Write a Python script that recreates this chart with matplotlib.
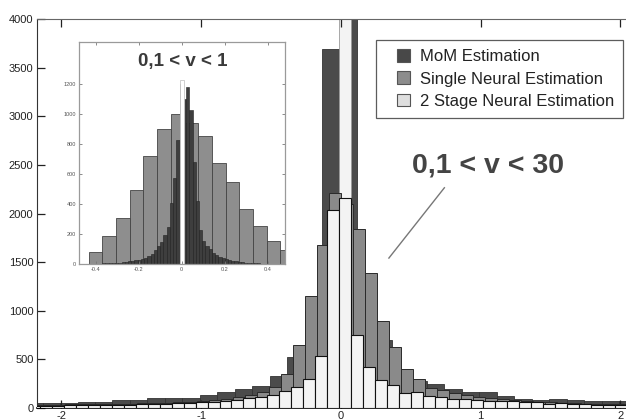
import numpy as np
import matplotlib.pyplot as plt
from matplotlib.patches import Rectangle
from matplotlib.legend_handler import HandlerPatch

plt.rcParams['font.family'] = ['Liberation Sans', 'DejaVu Sans']
plt.rcParams['axes.unicode_minus'] = False

# ---------------- main histogram : 0,1 < v < 30 ----------------
# bin k of the neural histograms spans k*nn_width .. (k+1)*nn_width
nn_width = 0.0857
nn_first = -26
single_nn = [35, 35, 35, 38, 38, 40, 40, 42, 45, 48, 50, 55, 60, 65, 75, 85,
             95, 110, 134, 165, 220, 348, 648, 1155, 1675, 2213,
             2100, 1837, 1385, 894, 632, 405, 300, 205, 185, 150, 130, 112,
             98, 88, 80, 72, 65, 58, 52, 48, 45, 42, 40, 38]
two_stage = [22, 25, 25, 28, 28, 30, 30, 32, 35, 38, 42, 45, 50, 55, 60, 65,
             75, 85, 100, 118, 134, 175, 219, 298, 535, 2035,
             2155, 750, 418, 288, 236, 158, 168, 123, 116, 92, 89, 79, 72,
             72, 75, 65, 58, 44, 48, 44, 38, 31, 31, 35]
two_stage_peak = 4600   # the centre bin goes past the top of the axis

mom_width = 0.125
mom_first_edge = -2.26
mom = [55, 55, 55, 58, 62, 82, 82, 100, 100, 100, 134, 160, 200, 226, 325,
       520, 1000, 3690, 6000, 1300, 700, 380, 280, 245, 200, 164, 160, 120,
       90, 80, 92, 85, 75, 70, 72]

# ---------------- inset : 0,1 < v < 1 ----------------
inset_single_width = 0.0637
inset_single_first_edge = -0.433
inset_single = [82, 184, 306, 495, 722, 900, 1002, 940, 851, 673, 544, 367,
                251, 151, 95]

inset_mom_width = 0.015
inset_mom_first_edge = -0.385
inset_mom = [3, 4, 5, 6, 7, 8, 10, 12, 14, 17, 20, 24, 28, 35, 42, 52, 65,
             92, 118, 150, 195, 245, 410, 575, 830,
             1200,
             1100, 1180, 1025, 680, 420, 230, 155, 120, 97, 75, 60, 47, 40,
             32, 26, 21, 17, 14, 11, 9, 7, 6, 5, 4, 3]
inset_peak = 1230

labels = ['MoM Estimation', 'Single Neural Estimation', '2 Stage Neural Estimation']
bar_colors = ['#4b4b4b', '#8a8a8a', '#f3f3f3']
legend_colors = ['#484848', '#8c8c8c', '#dedede']

fig = plt.figure(figsize=(6.26, 4.2), dpi=100)
ax = fig.add_axes([0.0591, 0.0286, 0.941, 0.926])

nn_centers = (np.arange(len(single_nn)) + nn_first + 0.5) * nn_width
light_shift = -0.012
mom_centers = mom_first_edge + (np.arange(len(mom)) + 0.5) * mom_width

ax.bar(mom_centers, mom, width=mom_width, color=bar_colors[0],
       edgecolor='#333333', linewidth=0.6, zorder=1)
ax.bar(nn_centers[-nn_first] + light_shift, two_stage_peak, width=nn_width,
       color=bar_colors[2], edgecolor='#9a9a9a', linewidth=0.6, zorder=1.5)
ax.bar(nn_centers, single_nn, width=nn_width, color=bar_colors[1],
       edgecolor='#2a2a2a', linewidth=0.7, zorder=2)
ax.bar(nn_centers + light_shift, two_stage, width=nn_width, color=bar_colors[2],
       edgecolor='#111111', linewidth=0.8, zorder=3)

ax.set_xlim(-2.175, 2.04)
ax.set_ylim(0, 4000)
ax.set_xticks([-2, -1, 0, 1, 2])
ax.set_yticks(np.arange(0, 4001, 500))
ax.tick_params(direction='in', length=6, width=0.9, top=True, labelsize=8,
               colors='#222222', pad=2.5)
ax.spines['right'].set_visible(False)
ax.spines['top'].set_color('#666666')
ax.spines['left'].set_color('#333333')
ax.spines['bottom'].set_linewidth(1.2)

# annotation for the whole range
ax.text(1.052, 2490, '0,1 < v < 30', fontsize=20.5, fontweight='bold',
        color='#444444', ha='center', va='center')
ax.plot([0.74, 0.343], [2265, 1542], color='#777777', linewidth=1)


def square_patch(legend, orig_handle, xdescent, ydescent, width, height, fontsize):
    return Rectangle((width - height - xdescent, -ydescent), height, height)


handles = [Rectangle((0, 0), 1, 1, facecolor=c, edgecolor='#555555', linewidth=0.8)
           for c in legend_colors]
leg = ax.legend(handles, labels, loc='upper right', bbox_to_anchor=(0.995, 0.946),
                borderaxespad=0, fontsize=12, frameon=True, fancybox=False,
                edgecolor='#333333', borderpad=0.55, labelspacing=0.42,
                handlelength=1.46, handleheight=0.8, handletextpad=0.6,
                handler_map={Rectangle: HandlerPatch(patch_func=square_patch)})
leg.get_frame().set_linewidth(0.9)
for t in leg.get_texts():
    t.set_color('#222222')
leg.set_zorder(10)

# ---------------- inset ----------------
axin = fig.add_axes([0.1262, 0.3714, 0.329, 0.5286])
in_single_centers = inset_single_first_edge + (np.arange(len(inset_single)) + 0.5) * inset_single_width
in_mom_centers = inset_mom_first_edge + (np.arange(len(inset_mom)) + 0.5) * inset_mom_width

axin.bar(in_single_centers, inset_single, width=inset_single_width,
         color='#8e8e8e', edgecolor='#444444', linewidth=0.6)
axin.bar(in_mom_centers, inset_mom, width=inset_mom_width, color='#3e3e3e',
         edgecolor='#222222', linewidth=0.4)
peak_edge = inset_mom_first_edge + (len(inset_mom) // 2) * inset_mom_width
axin.bar(peak_edge, inset_peak, width=1.5 * inset_mom_width, align='edge',
         color='white', edgecolor='#c8c8c8', linewidth=0.6)

axin.set_xlim(-0.478, 0.48)
axin.set_ylim(0, 1480)
axin.set_xticks([-0.4, -0.2, 0, 0.2, 0.4])
axin.set_xticklabels(['-0.4', '-0.2', '0', '0.2', '0.4'])
axin.set_yticks(np.arange(0, 1201, 200))
axin.tick_params(direction='in', length=2.5, width=0.6, top=True, right=True,
                 labelsize=4, colors='#777777', labelcolor='#555555', pad=2)
for s in axin.spines.values():
    s.set_color('#9a9a9a')
    s.set_linewidth(0.9)
axin.text(0.006, 1350, '0,1 < v < 1', fontsize=13.5, fontweight='bold',
          color='#3a3a3a', ha='center', va='center')

fig.savefig('out.png', dpi=100)
